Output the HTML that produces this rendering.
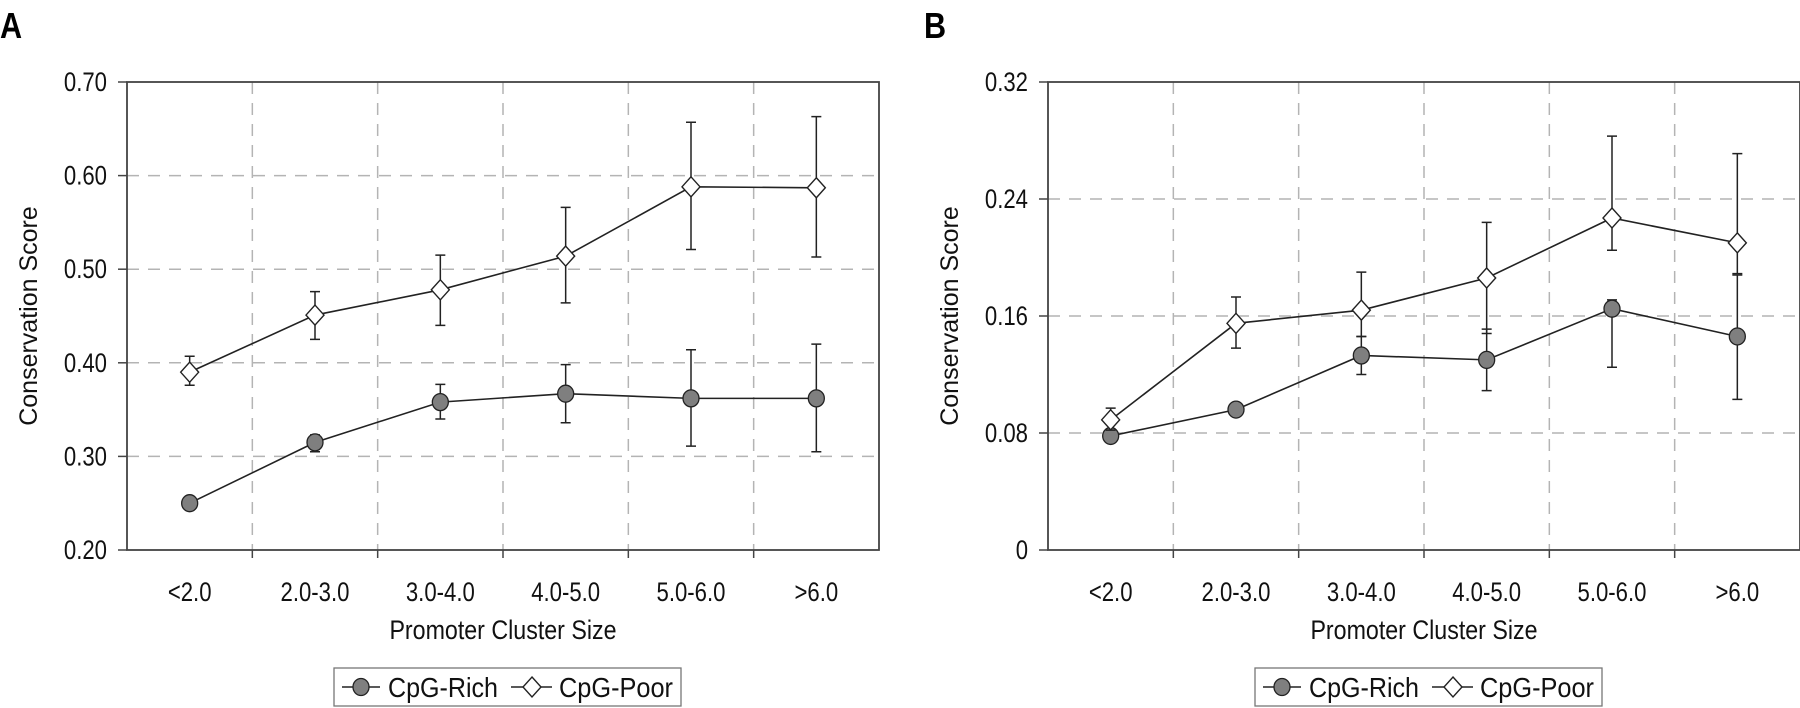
<!DOCTYPE html>
<html><head><meta charset="utf-8"><style>
html,body{margin:0;padding:0;background:#fff;}
svg{display:block;font-family:"Liberation Sans",sans-serif;}
</style></head><body>
<svg id="fig" width="1800" height="708" viewBox="0 0 1800 708" xmlns="http://www.w3.org/2000/svg"></svg>
<script>
const categories = ["<2.0","2.0-3.0","3.0-4.0","4.0-5.0","5.0-6.0",">6.0"];
// Panel A
const aTicks = [0.20,0.30,0.40,0.50,0.60,0.70];
const aTickLabels = ["0.20","0.30","0.40","0.50","0.60","0.70"];
const aRich = [0.250,0.315,0.358,0.367,0.362,0.362];
const aRichHi = [0.250,0.323,0.377,0.398,0.414,0.420];
const aRichLo = [0.250,0.305,0.340,0.336,0.311,0.305];
const aPoor = [0.390,0.451,0.478,0.514,0.588,0.587];
const aPoorHi = [0.407,0.476,0.515,0.566,0.657,0.663];
const aPoorLo = [0.376,0.425,0.440,0.464,0.521,0.513];
// Panel B
const bTicks = [0,0.08,0.16,0.24,0.32];
const bTickLabels = ["0","0.08","0.16","0.24","0.32"];
const bRich = [0.078,0.096,0.133,0.130,0.165,0.146];
const bRichHi = [0.078,0.099,0.146,0.151,0.171,0.188];
const bRichLo = [0.078,0.092,0.120,0.109,0.125,0.103];
const bPoor = [0.089,0.155,0.164,0.186,0.227,0.210];
const bPoorHi = [0.097,0.173,0.190,0.224,0.283,0.271];
const bPoorLo = [0.082,0.138,0.146,0.148,0.205,0.189];

const NS="http://www.w3.org/2000/svg";
const svg=document.getElementById('fig');
function mk(tag,attrs,parent){const e=document.createElementNS(NS,tag);for(const k in attrs)e.setAttribute(k,attrs[k]);(parent||svg).appendChild(e);return e;}
function condense(el,f){const w=el.getComputedTextLength();el.setAttribute('textLength',(w*f).toFixed(1));el.setAttribute('lengthAdjust','spacingAndGlyphs');}

function panel(o){
  const g=mk('g',{});
  
  
  const L=o.left,R=o.left+752,T=82,B=550;
  const x=i=>L+(R-L)/6*(i+0.5);
  const y=v=>B-(v-o.min)/(o.max-o.min)*(B-T);
  for(let i=1;i<6;i++){
    const gl=mk('line',{x1:L+(R-L)/6*i,x2:L+(R-L)/6*i,y1:T,y2:B,stroke:'#b4b4b4','stroke-width':1.5,'stroke-dasharray':'12,9'},g);
    
    
    const tk=mk('line',{x1:L+(R-L)/6*i,x2:L+(R-L)/6*i,y1:B,y2:B+8,stroke:'#444','stroke-width':1.5},g);
    
    
  }
  o.ticks.forEach((t,k)=>{
    if(t>o.min&&t<o.max){
      const gl=mk('line',{x1:L,x2:R,y1:y(t),y2:y(t),stroke:'#b4b4b4','stroke-width':1.5,'stroke-dasharray':'12,9'},g);
      
      
    }
    const tk=mk('line',{x1:L-9,x2:L,y1:y(t),y2:y(t),stroke:'#444','stroke-width':1.5},g);
    
    
    const tl=mk('text',{x:L-20,y:y(t)+9,'text-anchor':'end','font-size':27,fill:'#111'},g);
    tl.textContent=o.labels[k];
    
    
    condense(tl,0.82);
  });
  const fr=mk('rect',{x:L,y:T,width:R-L,height:B-T,fill:'none',stroke:'#444','stroke-width':1.8},g);
  
  
  categories.forEach((c,i)=>{
    const t=mk('text',{x:x(i),y:601,'text-anchor':'middle','font-size':27,fill:'#111'},g);
    t.textContent=c;
    
    
    condense(t,0.82);
  });
  const xt=mk('text',{x:(L+R)/2,y:639,'text-anchor':'middle','font-size':27,fill:'#111'},g);
  xt.textContent='Promoter Cluster Size';
  
  
  condense(xt,0.86);
  const yt=mk('text',{x:0,y:0,'text-anchor':'middle','font-size':25,fill:'#111',transform:`translate(${L-90},316) rotate(-90)`},g);
  yt.textContent='Conservation Score';
  
  
  const pl=mk('text',{x:o.letterX,y:38,'font-size':36,'font-weight':'bold',fill:'#000'},g);
  pl.textContent=o.letter;
  
  
  condense(pl,0.85);

  function series(vals,hi,lo,kind){
    const sg=mk('g',{},g);
    
    
    vals.forEach((v,i)=>{
      const eb=mk('path',{d:`M${x(i)},${y(hi[i])}V${y(lo[i])}M${x(i)-5},${y(hi[i])}h10M${x(i)-5},${y(lo[i])}h10`,stroke:'#222','stroke-width':1.5,fill:'none'},sg);
      
      
    });
    const ln=mk('polyline',{points:vals.map((v,i)=>x(i)+','+y(v)).join(' '),fill:'none',stroke:'#222','stroke-width':1.6},sg);
    
    
    vals.forEach((v,i)=>{
      let m;
      if(kind==='c') m=mk('ellipse',{cx:x(i),cy:y(v),rx:8,ry:8.5,fill:'#7f7f7f',stroke:'#222','stroke-width':1.3},sg);
      else m=mk('path',{d:`M${x(i)},${y(v)-10}L${x(i)+9},${y(v)}L${x(i)},${y(v)+10}L${x(i)-9},${y(v)}Z`,fill:'#fff',stroke:'#222','stroke-width':1.4},sg);
      
      
    });
  }
  series(o.rich,o.richHi,o.richLo,'c');
  series(o.poor,o.poorHi,o.poorLo,'d');

  const lx=o.left+207;
  const lg=mk('g',{},g);
  
  
  mk('rect',{x:lx,y:668,width:347,height:38,fill:'#fff',stroke:'#777','stroke-width':1.3},lg);
  const l1=mk('g',{},lg);
  
  
  mk('line',{x1:lx+8,x2:lx+46,y1:687,y2:687,stroke:'#222','stroke-width':1.5},l1);
  mk('ellipse',{cx:lx+27,cy:687,rx:8,ry:8.5,fill:'#7f7f7f',stroke:'#222','stroke-width':1.3},l1);
  const t1=mk('text',{x:lx+54,y:697,'font-size':28,fill:'#111',textLength:110,lengthAdjust:'spacingAndGlyphs'},l1);
  t1.textContent='CpG-Rich';
  const l2=mk('g',{},lg);
  
  
  mk('line',{x1:lx+177,x2:lx+218,y1:687,y2:687,stroke:'#222','stroke-width':1.5},l2);
  mk('path',{d:`M${lx+198},677L${lx+207},687L${lx+198},697L${lx+189},687Z`,fill:'#fff',stroke:'#222','stroke-width':1.4},l2);
  const t2=mk('text',{x:lx+225,y:697,'font-size':28,fill:'#111',textLength:114,lengthAdjust:'spacingAndGlyphs'},l2);
  t2.textContent='CpG-Poor';
}

panel({name:'panel-a',left:127,min:0.2,max:0.7,ticks:aTicks,labels:aTickLabels,rich:aRich,richHi:aRichHi,richLo:aRichLo,poor:aPoor,poorHi:aPoorHi,poorLo:aPoorLo,letter:'A',letterX:0});
panel({name:'panel-b',left:1048,min:0,max:0.32,ticks:bTicks,labels:bTickLabels,rich:bRich,richHi:bRichHi,richLo:bRichLo,poor:bPoor,poorHi:bPoorHi,poorLo:bPoorLo,letter:'B',letterX:924});
</script>
</body></html>
